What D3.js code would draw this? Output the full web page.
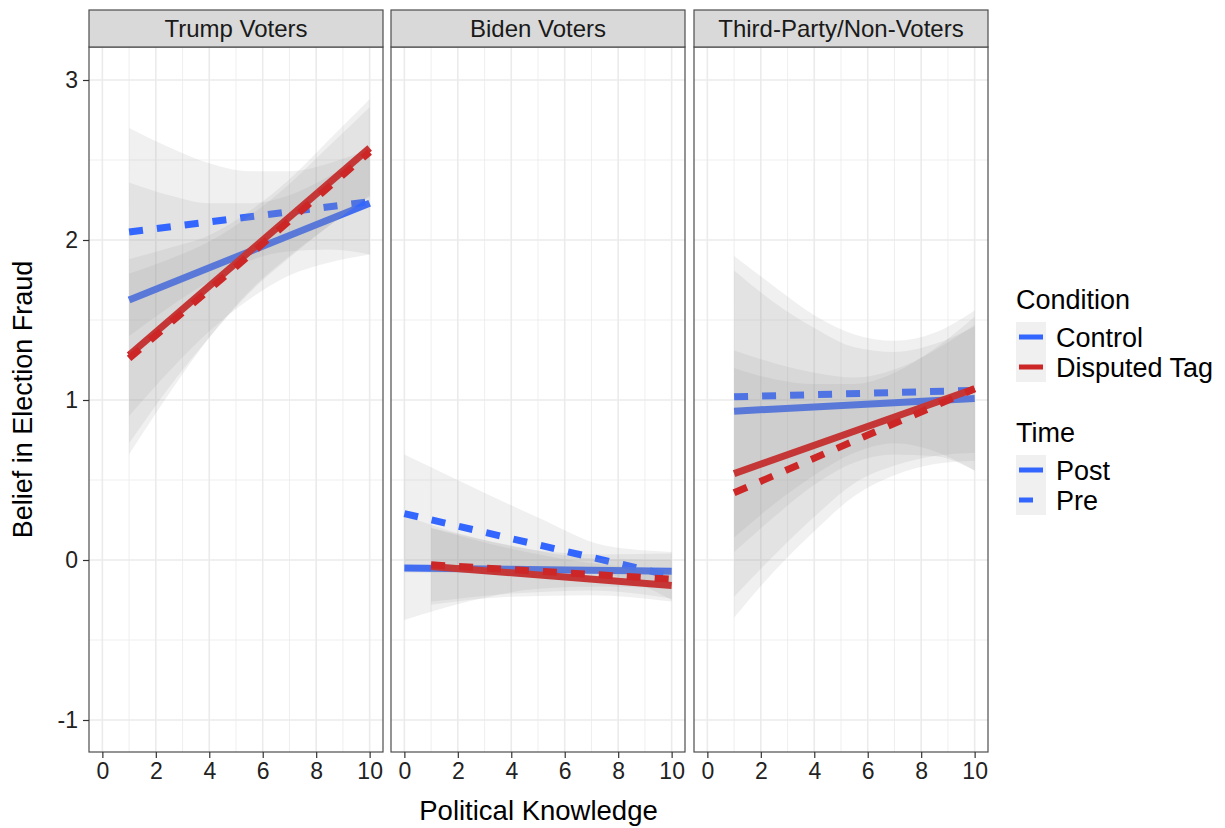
<!DOCTYPE html>
<html>
<head>
<meta charset="utf-8">
<script src="https://cdn.jsdelivr.net/npm/d3@7"></script>
<style>
  body { margin: 0; background: #fff; }
  text { font-family: "Liberation Sans", Arial, Helvetica, sans-serif; }
</style>
</head>
<body>
<svg id="chart" width="1225" height="828"></svg>
<script>
// facets, groups
var panels = ["Trump Voters", "Biden Voters", "Third-Party/Non-Voters"];
var conditions = ["Control", "Disputed Tag"];
var times = ["Post", "Pre"];
var xTicks = [0, 2, 4, 6, 8, 10];
var yTicks = [-1, 0, 1, 2, 3];

// group order: Control/Post, Control/Pre, Disputed/Post, Disputed/Pre
var groupCond = [0, 0, 1, 1];
var groupTime = [0, 1, 0, 1];

// fitted lines [x0, y0, x1, y1] per group
var trumpLines = [[1, 1.625, 10, 2.23], [1, 2.05, 10, 2.24], [1, 1.28, 10, 2.575], [1, 1.26, 10, 2.55]];
var bidenLines = [[0, -0.05, 10, -0.07], [0, 0.29, 10, -0.1], [1, -0.04, 10, -0.16], [1, -0.03, 10, -0.12]];
var thirdLines = [[1, 0.93, 10, 1.01], [1, 1.02, 10, 1.06], [1, 0.54, 10, 1.07], [1, 0.42, 10, 1.07]];

// confidence ribbons
var trumpRibX = [[1, 2.5, 4, 5.5, 7, 8.5, 10], [1, 2.5, 4, 5.5, 7, 8.5, 10], [1, 2.5, 4, 5.5, 7, 8.5, 10], [1, 2.5, 4, 5.5, 7, 8.5, 10]];
var trumpLo = [[0.90, 1.18, 1.43, 1.63, 1.78, 1.86, 1.91],
               [1.40, 1.58, 1.74, 1.87, 1.93, 1.94, 1.91],
               [0.66, 1.04, 1.39, 1.68, 1.90, 2.09, 2.28],
               [0.73, 1.08, 1.39, 1.67, 1.89, 2.09, 2.27]];
var trumpHi = [[2.36, 2.28, 2.23, 2.23, 2.28, 2.40, 2.55],
               [2.70, 2.58, 2.48, 2.43, 2.43, 2.48, 2.57],
               [1.88, 1.95, 2.03, 2.18, 2.38, 2.63, 2.88],
               [1.79, 1.88, 1.99, 2.15, 2.35, 2.59, 2.83]];

var bidenRibX = [[0, 2.5, 5, 7.5, 10], [0, 2.5, 5, 7.5, 10], [1, 4, 7, 10], [1, 4, 7, 10]];
var bidenLo = [[-0.375, -0.255, -0.18, -0.165, -0.18],
               [-0.08, -0.08, -0.075, -0.09, -0.25],
               [-0.28, -0.23, -0.22, -0.26],
               [-0.26, -0.21, -0.19, -0.24]];
var bidenHi = [[0.275, 0.145, 0.06, 0.035, 0.04],
               [0.66, 0.46, 0.265, 0.09, 0.05],
               [0.20, 0.07, -0.02, -0.06],
               [0.20, 0.09, 0.01, 0.0]];

var thirdRibX = [[1, 2.5, 4, 5.5, 7, 8.5, 10], [1, 2.5, 4, 5.5, 7, 8.5, 10], [1, 2.5, 4, 5.5, 7, 8.5, 10], [1, 2.5, 4, 5.5, 7, 8.5, 10]];
var thirdLo = [[0.05, 0.27, 0.47, 0.61, 0.66, 0.65, 0.56],
               [0.14, 0.35, 0.53, 0.67, 0.73, 0.68, 0.56],
               [-0.23, 0.03, 0.27, 0.48, 0.59, 0.65, 0.67],
               [-0.36, -0.07, 0.18, 0.40, 0.53, 0.60, 0.62]];
var thirdHi = [[1.81, 1.61, 1.45, 1.33, 1.30, 1.35, 1.46],
               [1.90, 1.71, 1.53, 1.41, 1.37, 1.42, 1.56],
               [1.31, 1.23, 1.17, 1.14, 1.19, 1.31, 1.47],
               [1.20, 1.13, 1.10, 1.10, 1.17, 1.32, 1.52]];

var allLines = [trumpLines, bidenLines, thirdLines];
var allRibX = [trumpRibX, bidenRibX, thirdRibX];
var allLo = [trumpLo, bidenLo, thirdLo];
var allHi = [trumpHi, bidenHi, thirdHi];

var condColor = d3.scaleOrdinal().domain(conditions).range(["#3366FF", "#CD2626"]);
var dash = { "Post": null, "Pre": "14,14" };

var svg = d3.select("#chart");

var panelLeft = [89, 391, 694], panelW = 294;
var panelTop = 47, panelBottom = 752, stripTop = 10;

var y = d3.scaleLinear().domain([-1, 3]).range([720, 80]);

svg.append("defs").selectAll("clipPath").data(panels).enter()
  .append("clipPath").attr("id", function(d, i) { return "clip" + i; })
  .append("rect")
    .attr("x", function(d, i) { return panelLeft[i]; })
    .attr("y", panelTop).attr("width", panelW).attr("height", panelBottom - panelTop);

panels.forEach(function(name, p) {
  var x = d3.scaleLinear().domain([-0.5, 10.5]).range([panelLeft[p], panelLeft[p] + panelW]);
  var g = svg.append("g");

  // grid
  var grid = g.append("g");
  grid.selectAll(".vmin").data(d3.range(1, 10, 2)).enter().append("line")
    .attr("x1", x).attr("x2", x).attr("y1", panelTop).attr("y2", panelBottom)
    .attr("stroke", "#ebebeb").attr("stroke-width", 0.8);
  grid.selectAll(".hmin").data(d3.range(-0.5, 3.2, 1)).enter().append("line")
    .attr("y1", y).attr("y2", y).attr("x1", panelLeft[p]).attr("x2", panelLeft[p] + panelW)
    .attr("stroke", "#ebebeb").attr("stroke-width", 0.8);
  grid.selectAll(".vmaj").data(xTicks).enter().append("line")
    .attr("x1", x).attr("x2", x).attr("y1", panelTop).attr("y2", panelBottom)
    .attr("stroke", "#ebebeb").attr("stroke-width", 1.6);
  grid.selectAll(".hmaj").data(yTicks).enter().append("line")
    .attr("y1", y).attr("y2", y).attr("x1", panelLeft[p]).attr("x2", panelLeft[p] + panelW)
    .attr("stroke", "#ebebeb").attr("stroke-width", 1.6);

  // ribbons + lines, group by group
  var layer = g.append("g").attr("clip-path", "url(#clip" + p + ")");
  var area = d3.area().curve(d3.curveMonotoneX)
    .x(function(d) { return x(d[0]); })
    .y0(function(d) { return y(d[1]); })
    .y1(function(d) { return y(d[2]); });

  for (var k = 0; k < 4; k++) {
    var xs = allRibX[p][k];
    var pts = xs.map(function(v, i) { return [v, allLo[p][k][i], allHi[p][k][i]]; });
    layer.append("path").attr("d", area(pts))
      .attr("fill", "#999999").attr("fill-opacity", 0.15);

    var L = allLines[p][k];
    var ln = layer.append("line")
      .attr("x1", x(L[0])).attr("y1", y(L[1]))
      .attr("x2", x(L[2])).attr("y2", y(L[3]))
      .attr("stroke", condColor(conditions[groupCond[k]]))
      .attr("stroke-width", 7).attr("stroke-linecap", "butt");
    if (dash[times[groupTime[k]]]) ln.attr("stroke-dasharray", dash[times[groupTime[k]]]);
  }

  // panel border
  g.append("rect").attr("x", panelLeft[p]).attr("y", panelTop)
    .attr("width", panelW).attr("height", panelBottom - panelTop)
    .attr("fill", "none").attr("stroke", "#4d4d4d").attr("stroke-width", 1.2);

  // strip
  g.append("rect").attr("x", panelLeft[p]).attr("y", stripTop)
    .attr("width", panelW).attr("height", panelTop - stripTop)
    .attr("fill", "#d9d9d9").attr("stroke", "#4d4d4d").attr("stroke-width", 1.2);
  g.append("text").attr("x", panelLeft[p] + panelW / 2).attr("y", (stripTop + panelTop) / 2)
    .attr("dy", "0.36em").attr("text-anchor", "middle")
    .attr("font-size", 24).attr("fill", "#1a1a1a").text(name);

  // x axis
  var xa = g.append("g").attr("transform", "translate(0," + panelBottom + ")")
    .call(d3.axisBottom(x).tickValues(xTicks).tickFormat(String).tickSize(6).tickPadding(5));
  xa.select(".domain").remove();
  xa.selectAll(".tick line").attr("stroke", "#333").attr("stroke-width", 1.2);
  xa.selectAll(".tick text").attr("font-size", 23).attr("fill", "#222")
    .style("font-family", "'Liberation Sans', Arial, sans-serif");
});

// y axis
var ya = svg.append("g").attr("transform", "translate(" + panelLeft[0] + ",0)")
  .call(d3.axisLeft(y).tickValues(yTicks).tickFormat(String).tickSize(6).tickPadding(5));
ya.select(".domain").remove();
ya.selectAll(".tick line").attr("stroke", "#333").attr("stroke-width", 1.2);
ya.selectAll(".tick text").attr("font-size", 23).attr("fill", "#222")
  .style("font-family", "'Liberation Sans', Arial, sans-serif");

// axis titles
svg.append("text").attr("x", (panelLeft[0] + panelLeft[2] + panelW) / 2).attr("y", 820)
  .attr("text-anchor", "middle").attr("font-size", 27.5).attr("fill", "#000").text("Political Knowledge");
svg.append("text").attr("transform", "translate(32," + (panelTop + panelBottom) / 2 + ") rotate(-90)")
  .attr("text-anchor", "middle").attr("font-size", 27).attr("fill", "#000").text("Belief in Election Fraud");

// legends
function legend(title, labels, y0, colorOf, dashOf) {
  var lg = svg.append("g").attr("transform", "translate(1016," + y0 + ")");
  lg.append("text").attr("x", 0).attr("y", 0).attr("font-size", 27).attr("fill", "#000").text(title);
  labels.forEach(function(lab, i) {
    var ky = 13 + i * 30;
    lg.append("rect").attr("x", 0).attr("y", ky).attr("width", 30).attr("height", 30)
      .attr("fill", "#f0f0f0");
    var l = lg.append("line").attr("x1", 3).attr("x2", 27)
      .attr("y1", ky + 15).attr("y2", ky + 15)
      .attr("stroke", colorOf(lab)).attr("stroke-width", 5);
    if (dashOf(lab)) l.attr("stroke-dasharray", "14,14");
    lg.append("text").attr("x", 40).attr("y", ky + 15).attr("dy", "0.36em")
      .attr("font-size", 27).attr("fill", "#000").text(lab);
  });
}
legend("Condition", conditions, 309, condColor, function() { return null; });
legend("Time", times, 442, function() { return "#3366FF"; }, function(l) { return dash[l]; });
</script>
</body>
</html>
